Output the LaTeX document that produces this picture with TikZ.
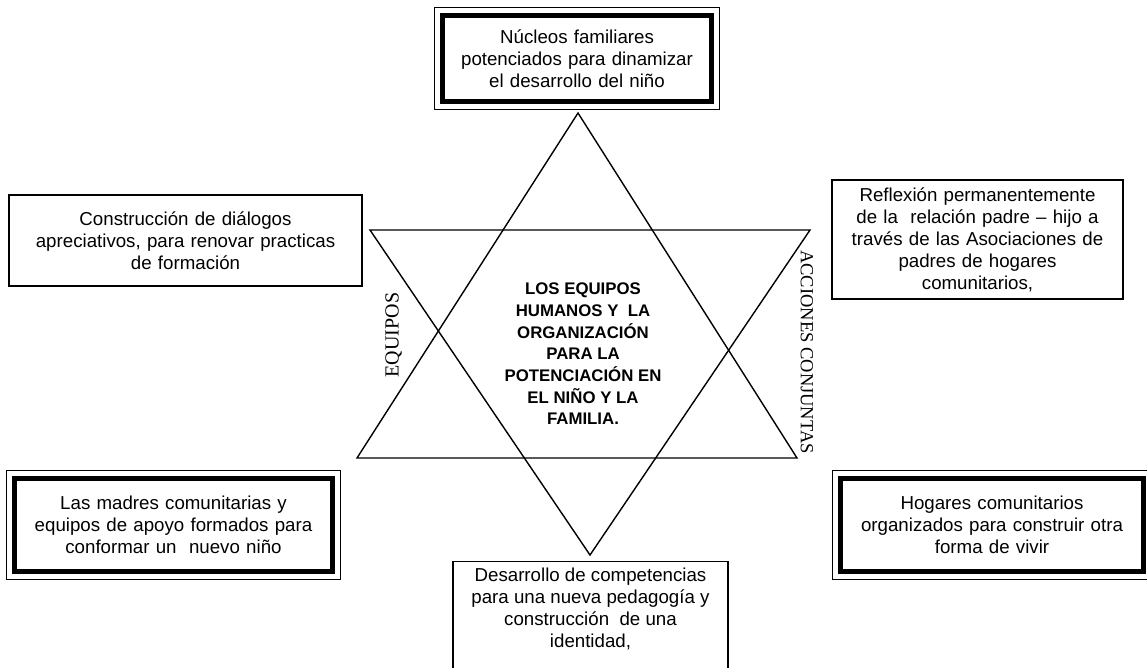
\documentclass[tikz,border=0pt]{standalone}
\usepackage{fontspec}
\setmainfont{Liberation Sans}
\newfontfamily\timesfont{Liberation Serif}
\usetikzlibrary{calc}
\tikzset{
  txtbox/.style={draw, fill=white, line width=1.3pt, align=center, inner sep=0pt,
    font=\fontsize{18.7}{22}\selectfont},
  thickbox/.style={txtbox, line width=5pt},
  sidelbl/.style={inner sep=0pt, text depth=0pt},
}
\begin{document}
\begin{tikzpicture}[x=1pt, y=-1pt]
\useasboundingbox (0,0) rectangle (1147,667);
\draw[line width=1.4pt] (578,113) -- (357,458) -- (797,458) -- cycle;
\draw[line width=1.4pt] (370,230) -- (810,230) -- (590,555) -- cycle;
\node[thickbox, minimum width=269pt, minimum height=86pt, text width=260pt] (nucleos) at (577,58.5)
  {Núcleos familiares\\potenciados para dinamizar\\el desarrollo del niño};
\node[txtbox, minimum width=353pt, minimum height=91pt, text width=345pt] (dialogos) at (185.5,240.5)
  {Construcción de diálogos\\apreciativos, para renovar practicas\\de formación};
\node[txtbox, minimum width=291pt, minimum height=119pt, text width=283pt] (reflexion) at (977.5,239.5)
  {Reflexión permanentemente\\de la~~relación padre – hijo a\\través de las Asociaciones de\\padres de hogares\\comunitarios,};
\node[thickbox, minimum width=318pt, minimum height=93pt, text width=310pt] (madres) at (173.5,525)
  {Las madres comunitarias y\\equipos de apoyo formados para\\conformar un~~nuevo niño};
\node[thickbox, minimum width=303pt, minimum height=93pt, text width=295pt] (hogares) at (992,525)
  {Hogares comunitarios\\organizados para construir otra\\forma de vivir};
\node[txtbox, anchor=north, minimum width=275pt, minimum height=120pt] (compet) at (590.5,561) {};
\node[anchor=north, align=center, inner sep=0pt, font=\fontsize{18.7}{22}\selectfont] (compettxt) at ([yshift=-7pt]compet.north)
  {Desarrollo de competencias\\para una nueva pedagogía y\\construcción~~de una\\identidad,};
\foreach \n in {nucleos,madres,hogares}
  \draw[line width=1.3pt] ([shift={(-5.5pt,-5.5pt)}]\n.south west) rectangle ([shift={(5.5pt,5.5pt)}]\n.north east);
\node[align=center, inner sep=0pt, font=\bfseries\fontsize{16.8}{21.7}\selectfont] (titulo) at (583,354)
  {LOS EQUIPOS\\HUMANOS Y~~LA\\ORGANIZACIÓN\\PARA LA\\POTENCIACIÓN EN\\EL NIÑO Y LA\\FAMILIA.};
\node[sidelbl, rotate=90, text height=13.2pt, font=\timesfont\fontsize{20}{24}\selectfont] (equipos) at (392,335) {EQUIPOS};
\node[sidelbl, rotate=-90, text height=12.2pt, font=\timesfont\fontsize{18.5}{22}\selectfont] (acciones) at (807,352) {ACCIONES CONJUNTAS};
\end{tikzpicture}
\end{document}
